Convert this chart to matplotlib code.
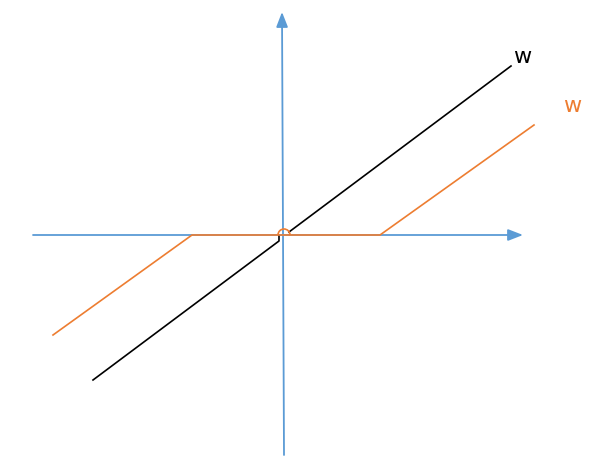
import matplotlib.pyplot as plt
from matplotlib.patches import Arc

# pixel-space coordinates (y grows downwards)
black_x1 = [93, 279, 279]
black_y1 = [380, 241, 236]
black_x2 = [289, 511]
black_y2 = [232, 66]
orange_x = [53, 192, 380, 534]
orange_y = [335, 235, 235, 125]
haxis = [(33, 235), (523, 235)]
vaxis = [(284, 455), (282, 12)]
labels = [("w", 522, 57, "black"), ("w", 572, 106, "#ED7D31")]

blue = "#5B9BD5"
orange = "#ED7D31"

fig = plt.figure(figsize=(6.01, 4.63), dpi=100)
ax = fig.add_axes([0, 0, 1, 1])
ax.set_xlim(0, 601)
ax.set_ylim(463, 0)
ax.axis("off")

for (x0, y0), (x1, y1) in [haxis, vaxis]:
    ax.annotate("", xy=(x1, y1), xytext=(x0, y0), zorder=1,
                arrowprops=dict(arrowstyle="-|>,head_length=0.9,head_width=0.35",
                                color=blue, lw=1.3, shrinkA=0, shrinkB=0))

ax.plot(black_x1, black_y1, color="black", lw=1.2, zorder=2)
ax.plot(black_x2, black_y2, color="black", lw=1.2, zorder=2)
ax.plot(orange_x, orange_y, color=orange, lw=1.2, zorder=3)
ax.add_patch(Arc((284, 235), 12, 12, theta1=180, theta2=360, color=orange,
                 lw=1.2, zorder=3))

for t, x, y, c in labels:
    ax.text(x, y, t, color=c, fontsize=16, ha="center", va="center")

fig.savefig("out.png", dpi=100)
